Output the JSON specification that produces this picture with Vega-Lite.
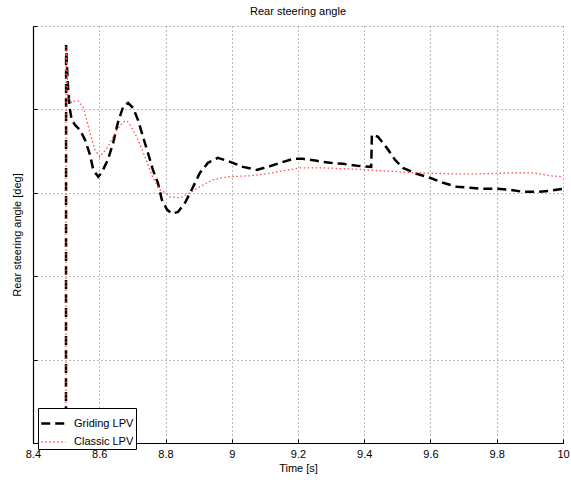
{
  "$schema": "https://vega.github.io/schema/vega-lite/v6.json",
  "width": 530,
  "height": 417,
  "autosize": {"type": "none"},
  "padding": {"left": 33, "top": 26, "right": 8, "bottom": 39},
  "background": "white",
  "config": {
    "font": "Liberation Sans",
    "view": {"stroke": null},
    "axis": {"labelFont": "Liberation Sans", "titleFont": "Liberation Sans", "titleFontWeight": "normal", "labelFontSize": 11, "titleFontSize": 11, "labelColor": "#000", "titleColor": "#000"}
  },
  "title": {"text": "Rear steering angle", "fontSize": 11, "fontWeight": "normal", "font": "Liberation Sans", "color": "#000", "offset": 9},
  "data": {"values": [
    {"t": 8.4995, "v": -4.0, "s": "Griding LPV"},
    {"t": 8.5, "v": 0.772, "s": "Griding LPV"},
    {"t": 8.502, "v": 0.557, "s": "Griding LPV"},
    {"t": 8.5066, "v": 0.213, "s": "Griding LPV"},
    {"t": 8.5117, "v": -0.006, "s": "Griding LPV"},
    {"t": 8.5168, "v": -0.126, "s": "Griding LPV"},
    {"t": 8.5268, "v": -0.186, "s": "Griding LPV"},
    {"t": 8.5419, "v": -0.246, "s": "Griding LPV"},
    {"t": 8.557, "v": -0.365, "s": "Griding LPV"},
    {"t": 8.572, "v": -0.545, "s": "Griding LPV"},
    {"t": 8.582, "v": -0.725, "s": "Griding LPV"},
    {"t": 8.597, "v": -0.808, "s": "Griding LPV"},
    {"t": 8.607, "v": -0.76, "s": "Griding LPV"},
    {"t": 8.626, "v": -0.605, "s": "Griding LPV"},
    {"t": 8.642, "v": -0.401, "s": "Griding LPV"},
    {"t": 8.656, "v": -0.162, "s": "Griding LPV"},
    {"t": 8.672, "v": 0.03, "s": "Griding LPV"},
    {"t": 8.687, "v": 0.078, "s": "Griding LPV"},
    {"t": 8.702, "v": 0.018, "s": "Griding LPV"},
    {"t": 8.717, "v": -0.126, "s": "Griding LPV"},
    {"t": 8.732, "v": -0.329, "s": "Griding LPV"},
    {"t": 8.747, "v": -0.521, "s": "Griding LPV"},
    {"t": 8.762, "v": -0.725, "s": "Griding LPV"},
    {"t": 8.777, "v": -0.88, "s": "Griding LPV"},
    {"t": 8.789, "v": -1.084, "s": "Griding LPV"},
    {"t": 8.805, "v": -1.204, "s": "Griding LPV"},
    {"t": 8.82, "v": -1.251, "s": "Griding LPV"},
    {"t": 8.838, "v": -1.228, "s": "Griding LPV"},
    {"t": 8.859, "v": -1.12, "s": "Griding LPV"},
    {"t": 8.879, "v": -0.964, "s": "Griding LPV"},
    {"t": 8.904, "v": -0.76, "s": "Griding LPV"},
    {"t": 8.928, "v": -0.641, "s": "Griding LPV"},
    {"t": 8.958, "v": -0.581, "s": "Griding LPV"},
    {"t": 8.995, "v": -0.629, "s": "Griding LPV"},
    {"t": 9.034, "v": -0.689, "s": "Griding LPV"},
    {"t": 9.075, "v": -0.725, "s": "Griding LPV"},
    {"t": 9.109, "v": -0.689, "s": "Griding LPV"},
    {"t": 9.146, "v": -0.641, "s": "Griding LPV"},
    {"t": 9.185, "v": -0.593, "s": "Griding LPV"},
    {"t": 9.215, "v": -0.593, "s": "Griding LPV"},
    {"t": 9.257, "v": -0.617, "s": "Griding LPV"},
    {"t": 9.297, "v": -0.641, "s": "Griding LPV"},
    {"t": 9.336, "v": -0.653, "s": "Griding LPV"},
    {"t": 9.378, "v": -0.677, "s": "Griding LPV"},
    {"t": 9.421, "v": -0.689, "s": "Griding LPV"},
    {"t": 9.423, "v": -0.305, "s": "Griding LPV"},
    {"t": 9.429, "v": -0.305, "s": "Griding LPV"},
    {"t": 9.4415, "v": -0.329, "s": "Griding LPV"},
    {"t": 9.468, "v": -0.461, "s": "Griding LPV"},
    {"t": 9.493, "v": -0.605, "s": "Griding LPV"},
    {"t": 9.517, "v": -0.701, "s": "Griding LPV"},
    {"t": 9.558, "v": -0.772, "s": "Griding LPV"},
    {"t": 9.598, "v": -0.82, "s": "Griding LPV"},
    {"t": 9.638, "v": -0.88, "s": "Griding LPV"},
    {"t": 9.68, "v": -0.928, "s": "Griding LPV"},
    {"t": 9.719, "v": -0.94, "s": "Griding LPV"},
    {"t": 9.758, "v": -0.952, "s": "Griding LPV"},
    {"t": 9.801, "v": -0.952, "s": "Griding LPV"},
    {"t": 9.84, "v": -0.964, "s": "Griding LPV"},
    {"t": 9.879, "v": -0.988, "s": "Griding LPV"},
    {"t": 9.922, "v": -0.988, "s": "Griding LPV"},
    {"t": 9.961, "v": -0.976, "s": "Griding LPV"},
    {"t": 10.0, "v": -0.952, "s": "Griding LPV"},
    {"t": 8.4995, "v": -4.0, "s": "Classic LPV"},
    {"t": 8.5, "v": 0.752, "s": "Classic LPV"},
    {"t": 8.5057, "v": 0.15, "s": "Classic LPV"},
    {"t": 8.5168, "v": 0.078, "s": "Classic LPV"},
    {"t": 8.527, "v": 0.102, "s": "Classic LPV"},
    {"t": 8.536, "v": 0.102, "s": "Classic LPV"},
    {"t": 8.551, "v": 0.03, "s": "Classic LPV"},
    {"t": 8.562, "v": -0.126, "s": "Classic LPV"},
    {"t": 8.572, "v": -0.281, "s": "Classic LPV"},
    {"t": 8.587, "v": -0.485, "s": "Classic LPV"},
    {"t": 8.602, "v": -0.569, "s": "Classic LPV"},
    {"t": 8.626, "v": -0.449, "s": "Classic LPV"},
    {"t": 8.653, "v": -0.246, "s": "Classic LPV"},
    {"t": 8.672, "v": -0.15, "s": "Classic LPV"},
    {"t": 8.684, "v": -0.138, "s": "Classic LPV"},
    {"t": 8.693, "v": -0.186, "s": "Classic LPV"},
    {"t": 8.713, "v": -0.329, "s": "Classic LPV"},
    {"t": 8.738, "v": -0.569, "s": "Classic LPV"},
    {"t": 8.762, "v": -0.82, "s": "Classic LPV"},
    {"t": 8.783, "v": -0.964, "s": "Classic LPV"},
    {"t": 8.805, "v": -1.012, "s": "Classic LPV"},
    {"t": 8.814, "v": -1.048, "s": "Classic LPV"},
    {"t": 8.844, "v": -1.06, "s": "Classic LPV"},
    {"t": 8.874, "v": -1.0, "s": "Classic LPV"},
    {"t": 8.904, "v": -0.928, "s": "Classic LPV"},
    {"t": 8.943, "v": -0.844, "s": "Classic LPV"},
    {"t": 8.986, "v": -0.808, "s": "Classic LPV"},
    {"t": 9.055, "v": -0.796, "s": "Classic LPV"},
    {"t": 9.106, "v": -0.772, "s": "Classic LPV"},
    {"t": 9.155, "v": -0.737, "s": "Classic LPV"},
    {"t": 9.206, "v": -0.701, "s": "Classic LPV"},
    {"t": 9.275, "v": -0.701, "s": "Classic LPV"},
    {"t": 9.357, "v": -0.713, "s": "Classic LPV"},
    {"t": 9.408, "v": -0.725, "s": "Classic LPV"},
    {"t": 9.457, "v": -0.737, "s": "Classic LPV"},
    {"t": 9.508, "v": -0.749, "s": "Classic LPV"},
    {"t": 9.559, "v": -0.76, "s": "Classic LPV"},
    {"t": 9.659, "v": -0.772, "s": "Classic LPV"},
    {"t": 9.758, "v": -0.772, "s": "Classic LPV"},
    {"t": 9.861, "v": -0.76, "s": "Classic LPV"},
    {"t": 9.909, "v": -0.76, "s": "Classic LPV"},
    {"t": 9.961, "v": -0.796, "s": "Classic LPV"},
    {"t": 10.0, "v": -0.808, "s": "Classic LPV"}
  ]},
  "mark": {"type": "line", "clip": true},
  "encoding": {
    "x": {
      "field": "t", "type": "quantitative",
      "scale": {"domain": [8.4, 10], "nice": false, "zero": false},
      "axis": {
        "title": "Time [s]", "values": [8.4, 8.6, 8.8, 9, 9.2, 9.4, 9.6, 9.8, 10],
        "format": "~g", "grid": true, "gridColor": "#777", "gridDash": [1, 3], "gridWidth": 1,
        "domainColor": "#000", "domainWidth": 1.2, "tickColor": "#000", "tickSize": -4,
        "labelPadding": 9, "titlePadding": 3, "labelFlush": false
      }
    },
    "y": {
      "field": "v", "type": "quantitative",
      "scale": {"domain": [-4, 1], "nice": false, "zero": false},
      "axis": {
        "title": "Rear steering angle [deg]", "values": [-4, -3, -2, -1, 0, 1],
        "labels": false, "grid": true, "gridColor": "#777", "gridDash": [1, 3], "gridWidth": 1,
        "domainColor": "#000", "domainWidth": 1.2, "tickColor": "#000", "tickSize": -4,
        "titlePadding": 10
      }
    },
    "color": {
      "field": "s", "type": "nominal",
      "scale": {"domain": ["Griding LPV", "Classic LPV"], "range": ["#000000", "#ff4d4d"]},
      "legend": {
        "title": null, "orient": "none", "legendX": 5, "legendY": 382,
        "strokeColor": "#000", "fillColor": "#fff", "padding": 2,
        "labelFontSize": 11, "labelFont": "Liberation Sans", "labelColor": "#000",
        "symbolType": "stroke", "symbolSize": 600, "symbolStrokeWidth": 2.5,
        "rowPadding": 0, "labelLimit": 200, "labelOffset": 7, "cornerRadius": 0
      }
    },
    "strokeDash": {
      "field": "s", "type": "nominal",
      "scale": {"domain": ["Griding LPV", "Classic LPV"], "range": [[9, 5], [1.5, 2.5]]},
      "legend": null
    },
    "strokeWidth": {
      "field": "s", "type": "nominal",
      "scale": {"domain": ["Griding LPV", "Classic LPV"], "range": [2.5, 1.3]},
      "legend": null
    }
  }
}
